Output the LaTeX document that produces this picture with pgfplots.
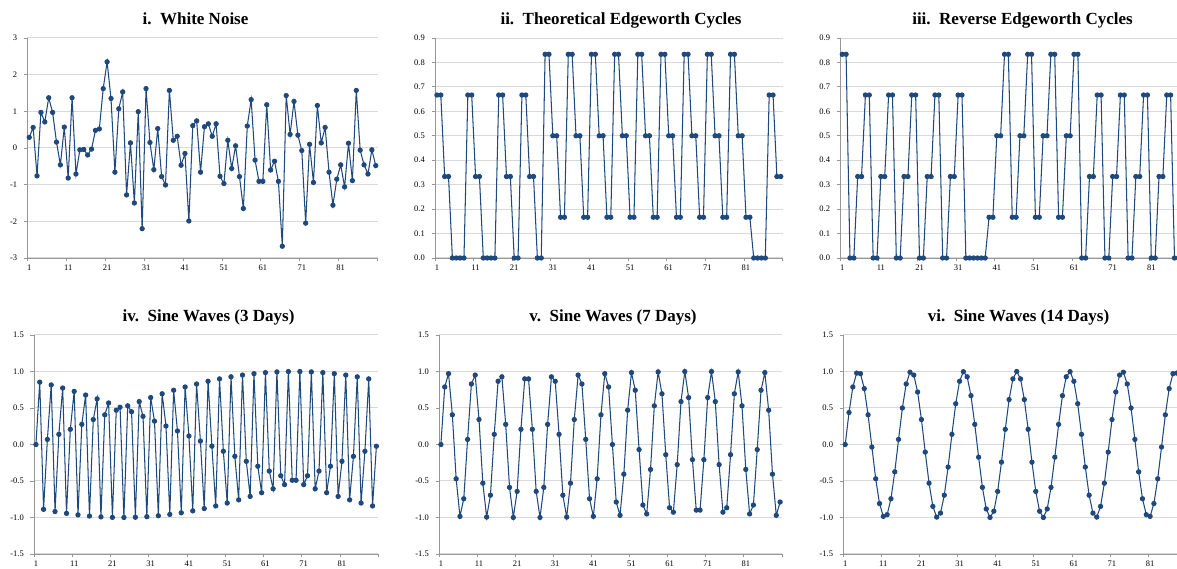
\documentclass[border=0pt]{standalone}
\usepackage{fontspec}
\setmainfont{Liberation Serif}
\usepackage{pgfplots}
\usepackage{pgfplotstable}
\pgfplotsset{compat=1.18}

\definecolor{lineblue}{RGB}{31,73,125}
\definecolor{gridgray}{RGB}{217,217,217}
\definecolor{axisgray}{RGB}{150,150,150}

% i. white noise
\pgfplotstableread[row sep=\\]{
t v\\
1 0.29\\ 2 0.56\\ 3 -0.76\\ 4 0.97\\ 5 0.71\\ 6 1.37\\ 7 0.97\\ 8 0.16\\ 9 -0.46\\ 10 0.57\\
11 -0.82\\ 12 1.37\\ 13 -0.71\\ 14 -0.05\\ 15 -0.04\\ 16 -0.19\\ 17 -0.03\\ 18 0.48\\ 19 0.52\\ 20 1.62\\
21 2.35\\ 22 1.35\\ 23 -0.66\\ 24 1.07\\ 25 1.53\\ 26 -1.28\\ 27 0.14\\ 28 -1.50\\ 29 0.99\\ 30 -2.20\\
31 1.62\\ 32 0.15\\ 33 -0.59\\ 34 0.53\\ 35 -0.78\\ 36 -1.01\\ 37 1.57\\ 38 0.21\\ 39 0.32\\ 40 -0.47\\
41 -0.15\\ 42 -1.99\\ 43 0.61\\ 44 0.74\\ 45 -0.66\\ 46 0.58\\ 47 0.66\\ 48 0.32\\ 49 0.66\\ 50 -0.77\\
51 -0.97\\ 52 0.21\\ 53 -0.56\\ 54 0.06\\ 55 -0.78\\ 56 -1.65\\ 57 0.60\\ 58 1.32\\ 59 -0.33\\ 60 -0.91\\
61 -0.91\\ 62 1.18\\ 63 -0.60\\ 64 -0.36\\ 65 -0.91\\ 66 -2.68\\ 67 1.43\\ 68 0.37\\ 69 1.27\\ 70 0.35\\
71 -0.07\\ 72 -2.05\\ 73 0.10\\ 74 -0.94\\ 75 1.16\\ 76 0.14\\ 77 0.56\\ 78 -0.66\\ 79 -1.56\\ 80 -0.85\\
81 -0.46\\ 82 -1.06\\ 83 0.13\\ 84 -0.89\\ 85 1.57\\ 86 -0.06\\ 87 -0.46\\ 88 -0.71\\ 89 -0.05\\ 90 -0.48\\
}\noise

% ii. theoretical edgeworth cycles
\pgfplotstableread[row sep=\\]{
t v\\
1 0.6667\\ 2 0.6667\\ 3 0.3333\\ 4 0.3333\\ 5 0\\ 6 0\\ 7 0\\ 8 0\\ 9 0.6667\\ 10 0.6667\\
11 0.3333\\ 12 0.3333\\ 13 0\\ 14 0\\ 15 0\\ 16 0\\ 17 0.6667\\ 18 0.6667\\ 19 0.3333\\ 20 0.3333\\
21 0\\ 22 0\\ 23 0.6667\\ 24 0.6667\\ 25 0.3333\\ 26 0.3333\\ 27 0\\ 28 0\\ 29 0.8333\\ 30 0.8333\\
31 0.5\\ 32 0.5\\ 33 0.1667\\ 34 0.1667\\ 35 0.8333\\ 36 0.8333\\ 37 0.5\\ 38 0.5\\ 39 0.1667\\ 40 0.1667\\
41 0.8333\\ 42 0.8333\\ 43 0.5\\ 44 0.5\\ 45 0.1667\\ 46 0.1667\\ 47 0.8333\\ 48 0.8333\\ 49 0.5\\ 50 0.5\\
51 0.1667\\ 52 0.1667\\ 53 0.8333\\ 54 0.8333\\ 55 0.5\\ 56 0.5\\ 57 0.1667\\ 58 0.1667\\ 59 0.8333\\ 60 0.8333\\
61 0.5\\ 62 0.5\\ 63 0.1667\\ 64 0.1667\\ 65 0.8333\\ 66 0.8333\\ 67 0.5\\ 68 0.5\\ 69 0.1667\\ 70 0.1667\\
71 0.8333\\ 72 0.8333\\ 73 0.5\\ 74 0.5\\ 75 0.1667\\ 76 0.1667\\ 77 0.8333\\ 78 0.8333\\ 79 0.5\\ 80 0.5\\
81 0.1667\\ 82 0.1667\\ 83 0\\ 84 0\\ 85 0\\ 86 0\\ 87 0.6667\\ 88 0.6667\\ 89 0.3333\\ 90 0.3333\\
}\edgeworth

% iii. reverse edgeworth cycles (cut at the right edge)
\pgfplotstableread[row sep=\\]{
t v\\
1 0.8333\\ 2 0.8333\\ 3 0\\ 4 0\\ 5 0.3333\\ 6 0.3333\\ 7 0.6667\\ 8 0.6667\\ 9 0\\ 10 0\\
11 0.3333\\ 12 0.3333\\ 13 0.6667\\ 14 0.6667\\ 15 0\\ 16 0\\ 17 0.3333\\ 18 0.3333\\ 19 0.6667\\ 20 0.6667\\
21 0\\ 22 0\\ 23 0.3333\\ 24 0.3333\\ 25 0.6667\\ 26 0.6667\\ 27 0\\ 28 0\\ 29 0.3333\\ 30 0.3333\\
31 0.6667\\ 32 0.6667\\ 33 0\\ 34 0\\ 35 0\\ 36 0\\ 37 0\\ 38 0\\ 39 0.1667\\ 40 0.1667\\
41 0.5\\ 42 0.5\\ 43 0.8333\\ 44 0.8333\\ 45 0.1667\\ 46 0.1667\\ 47 0.5\\ 48 0.5\\ 49 0.8333\\ 50 0.8333\\
51 0.1667\\ 52 0.1667\\ 53 0.5\\ 54 0.5\\ 55 0.8333\\ 56 0.8333\\ 57 0.1667\\ 58 0.1667\\ 59 0.5\\ 60 0.5\\
61 0.8333\\ 62 0.8333\\ 63 0\\ 64 0\\ 65 0.3333\\ 66 0.3333\\ 67 0.6667\\ 68 0.6667\\ 69 0\\ 70 0\\
71 0.3333\\ 72 0.3333\\ 73 0.6667\\ 74 0.6667\\ 75 0\\ 76 0\\ 77 0.3333\\ 78 0.3333\\ 79 0.6667\\ 80 0.6667\\
81 0\\ 82 0\\ 83 0.3333\\ 84 0.3333\\ 85 0.6667\\ 86 0.6667\\ 87 0\\ 88 0\\
}\reverse

% iv. sine, 3 days
\pgfplotstableread[row sep=\\]{
t v\\
1 0\\ 2 0.8536\\ 3 -0.8884\\ 4 0.0698\\ 5 0.8158\\ 6 -0.9182\\ 7 0.1392\\ 8 0.7738\\ 9 -0.9436\\ 10 0.2079\\
11 0.7274\\ 12 -0.9644\\ 13 0.2756\\ 14 0.6777\\ 15 -0.9805\\ 16 0.3420\\ 17 0.6248\\ 18 -0.9918\\ 19 0.4067\\ 20 0.5688\\
21 -0.9983\\ 22 0.4695\\ 23 0.5100\\ 24 -0.9999\\ 25 0.5299\\ 26 0.4488\\ 27 -0.9967\\ 28 0.5878\\ 29 0.3854\\ 30 -0.9886\\
31 0.6428\\ 32 0.3201\\ 33 -0.9757\\ 34 0.6947\\ 35 0.2532\\ 36 -0.9580\\ 37 0.7431\\ 38 0.1851\\ 39 -0.9356\\ 40 0.7880\\
41 0.1161\\ 42 -0.9088\\ 43 0.8290\\ 44 0.0465\\ 45 -0.8774\\ 46 0.8660\\ 47 -0.0233\\ 48 -0.8418\\ 49 0.8988\\ 50 -0.0929\\
51 -0.8021\\ 52 0.9272\\ 53 -0.1622\\ 54 -0.7585\\ 55 0.9511\\ 56 -0.2306\\ 57 -0.7112\\ 58 0.9703\\ 59 -0.2979\\ 60 -0.6604\\
61 0.9848\\ 62 -0.3638\\ 63 -0.6064\\ 64 0.9945\\ 65 -0.4279\\ 66 -0.5495\\ 67 0.9994\\ 68 -0.4899\\ 69 -0.4899\\ 70 0.9994\\
71 -0.5495\\ 72 -0.4279\\ 73 0.9945\\ 74 -0.6064\\ 75 -0.3638\\ 76 0.9848\\ 77 -0.6604\\ 78 -0.2979\\ 79 0.9703\\ 80 -0.7112\\
81 -0.2306\\ 82 0.9511\\ 83 -0.7585\\ 84 -0.1622\\ 85 0.9272\\ 86 -0.8021\\ 87 -0.0929\\ 88 0.8988\\ 89 -0.8418\\ 90 -0.0233\\
}\sinethree

% v. sine, 7 days
\pgfplotstableread[row sep=\\]{
t v\\
1 0\\ 2 0.7880\\ 3 0.9703\\ 4 0.4067\\ 5 -0.4695\\ 6 -0.9848\\ 7 -0.7431\\ 8 0.0698\\ 9 0.8290\\ 10 0.9511\\
11 0.3420\\ 12 -0.5299\\ 13 -0.9945\\ 14 -0.6947\\ 15 0.1392\\ 16 0.8660\\ 17 0.9272\\ 18 0.2756\\ 19 -0.5878\\ 20 -0.9994\\
21 -0.6428\\ 22 0.2079\\ 23 0.8988\\ 24 0.8988\\ 25 0.2079\\ 26 -0.6428\\ 27 -0.9994\\ 28 -0.5878\\ 29 0.2756\\ 30 0.9272\\
31 0.8660\\ 32 0.1392\\ 33 -0.6947\\ 34 -0.9945\\ 35 -0.5299\\ 36 0.3420\\ 37 0.9511\\ 38 0.8290\\ 39 0.0698\\ 40 -0.7431\\
41 -0.9848\\ 42 -0.4695\\ 43 0.4067\\ 44 0.9703\\ 45 0.7880\\ 46 0\\ 47 -0.7880\\ 48 -0.9703\\ 49 -0.4067\\ 50 0.4695\\
51 0.9848\\ 52 0.7431\\ 53 -0.0698\\ 54 -0.8290\\ 55 -0.9511\\ 56 -0.3420\\ 57 0.5299\\ 58 0.9945\\ 59 0.6947\\ 60 -0.1392\\
61 -0.8660\\ 62 -0.9272\\ 63 -0.2756\\ 64 0.5878\\ 65 0.9994\\ 66 0.6428\\ 67 -0.2079\\ 68 -0.8988\\ 69 -0.8988\\ 70 -0.2079\\
71 0.6428\\ 72 0.9994\\ 73 0.5878\\ 74 -0.2756\\ 75 -0.9272\\ 76 -0.8660\\ 77 -0.1392\\ 78 0.6947\\ 79 0.9945\\ 80 0.5299\\
81 -0.3420\\ 82 -0.9511\\ 83 -0.8290\\ 84 -0.0698\\ 85 0.7431\\ 86 0.9848\\ 87 0.4695\\ 88 -0.4067\\ 89 -0.9703\\ 90 -0.7880\\
}\sineseven

% vi. sine, 14 days (cut at the right edge)
\pgfplotstableread[row sep=\\]{
t v\\
1 0\\ 2 0.4384\\ 3 0.7880\\ 4 0.9781\\ 5 0.9703\\ 6 0.7660\\ 7 0.4067\\ 8 -0.0349\\ 9 -0.4695\\ 10 -0.8090\\
11 -0.9848\\ 12 -0.9613\\ 13 -0.7431\\ 14 -0.3746\\ 15 0.0698\\ 16 0.5\\ 17 0.8290\\ 18 0.9903\\ 19 0.9511\\ 20 0.7193\\
21 0.3420\\ 22 -0.1045\\ 23 -0.5299\\ 24 -0.8480\\ 25 -0.9945\\ 26 -0.9397\\ 27 -0.6947\\ 28 -0.3090\\ 29 0.1392\\ 30 0.5592\\
31 0.8660\\ 32 0.9976\\ 33 0.9272\\ 34 0.6691\\ 35 0.2756\\ 36 -0.1736\\ 37 -0.5878\\ 38 -0.8829\\ 39 -0.9994\\ 40 -0.9135\\
41 -0.6428\\ 42 -0.2419\\ 43 0.2079\\ 44 0.6157\\ 45 0.8988\\ 46 1.0\\ 47 0.8988\\ 48 0.6157\\ 49 0.2079\\ 50 -0.2419\\
51 -0.6428\\ 52 -0.9135\\ 53 -0.9994\\ 54 -0.8829\\ 55 -0.5878\\ 56 -0.1736\\ 57 0.2756\\ 58 0.6691\\ 59 0.9272\\ 60 0.9976\\
61 0.8660\\ 62 0.5592\\ 63 0.1392\\ 64 -0.3090\\ 65 -0.6947\\ 66 -0.9397\\ 67 -0.9945\\ 68 -0.8480\\ 69 -0.5299\\ 70 -0.1045\\
71 0.3420\\ 72 0.7193\\ 73 0.9511\\ 74 0.9903\\ 75 0.8290\\ 76 0.5\\ 77 0.0698\\ 78 -0.3746\\ 79 -0.7431\\ 80 -0.9613\\
81 -0.9848\\ 82 -0.8090\\ 83 -0.4695\\ 84 -0.0349\\ 85 0.4067\\ 86 0.7660\\ 87 0.9703\\ 88 0.9781\\
}\sinefourteen

\pgfplotsset{
  panel/.style={
    scale only axis, anchor=south west, clip=false,
    xmin=0.5, xmax=90.5,
    axis x line*=bottom, axis y line*=left,
    axis line style={-, draw=axisgray, line width=0.9pt},
    ymajorgrids, grid style={draw=gridgray, line width=1pt},
    xtick={0.5,10.5,20.5,30.5,40.5,50.5,60.5,70.5,80.5,90.5},
    xticklabels={},
    extra x ticks={1,11,21,31,41,51,61,71,81},
    extra x tick labels={1,11,21,31,41,51,61,71,81},
    extra x tick style={major tick length=0pt},
    tick align=outside, major tick length=3.5pt,
    tick style={draw=axisgray, line width=0.9pt},
    tick label style={font=\fontsize{8.5}{10}\selectfont, text=black},
    xticklabel style={inner sep=0pt, yshift=-7pt},
    yticklabel style={inner sep=0pt, xshift=-6.5pt},
    /pgf/number format/assume math mode=true,
  },
  onedec/.style={yticklabel style={/pgf/number format/.cd, fixed, fixed zerofill, precision=1}},
  ser/.style={lineblue, line width=1.05pt, mark=*, mark size=2.1pt,
    mark options={draw=none, fill=lineblue}},
}

\tikzset{ttl/.style={font=\bfseries\fontsize{17}{20}\selectfont, anchor=base}}

\begin{document}
\begin{tikzpicture}
\useasboundingbox (0,0) rectangle (1177pt,569pt);

\begin{axis}[panel, at={(27.3pt,311pt)}, width=350.4pt, height=220pt,
  ymin=-3, ymax=3, ytick={-3,-2,-1,0,1,2,3}]
\addplot[ser] table[x=t, y=v] {\noise};
\end{axis}

\begin{axis}[panel, onedec, at={(435pt,311pt)}, width=347.7pt, height=220pt,
  ymin=0, ymax=0.9, ytick={0,0.1,0.2,0.3,0.4,0.5,0.6,0.7,0.8,0.9}]
\addplot[ser] table[x=t, y=v] {\edgeworth};
\end{axis}

\begin{axis}[panel, onedec, at={(840.3pt,311pt)}, width=347.7pt, height=220pt,
  ymin=0, ymax=0.9, ytick={0,0.1,0.2,0.3,0.4,0.5,0.6,0.7,0.8,0.9}]
\addplot[ser] table[x=t, y=v] {\reverse};
\end{axis}

\begin{axis}[panel, onedec, at={(34pt,15pt)}, width=344.3pt, height=219pt,
  ymin=-1.5, ymax=1.5, ytick={-1.5,-1,-0.5,0,0.5,1,1.5}]
\addplot[ser] table[x=t, y=v] {\sinethree};
\end{axis}

\begin{axis}[panel, onedec, at={(439pt,15pt)}, width=343pt, height=219pt,
  ymin=-1.5, ymax=1.5, ytick={-1.5,-1,-0.5,0,0.5,1,1.5}]
\addplot[ser] table[x=t, y=v] {\sineseven};
\end{axis}

\begin{axis}[panel, onedec, at={(843.3pt,15pt)}, width=343pt, height=219pt,
  ymin=-1.5, ymax=1.5, ytick={-1.5,-1,-0.5,0,0.5,1,1.5}]
\addplot[ser] table[x=t, y=v] {\sinefourteen};
\end{axis}

\node[ttl] at (195.5pt,544pt) {i.\ \ White Noise};
\node[ttl] at (621pt,544pt) {ii.\ \ Theoretical Edgeworth Cycles};
\node[ttl] at (1022.5pt,544pt) {iii.\ \ Reverse Edgeworth Cycles};
\node[ttl] at (208.5pt,247pt) {iv.\ \ Sine Waves (3 Days)};
\node[ttl] at (613pt,247pt) {v.\ \ Sine Waves (7 Days)};
\node[ttl] at (1018.5pt,247pt) {vi.\ \ Sine Waves (14 Days)};
\end{tikzpicture}
\end{document}
